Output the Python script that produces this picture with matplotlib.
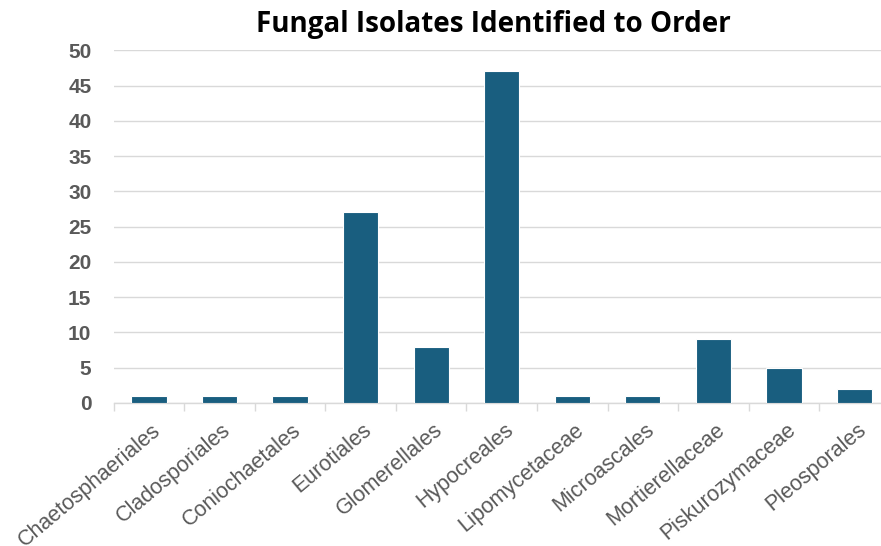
import matplotlib
matplotlib.use("Agg")
import matplotlib.pyplot as plt
import matplotlib.transforms as mtransforms
import numpy as np

# Datos
orders = ["Chaetosphaeriales", "Cladosporiales", "Coniochaetales", "Eurotiales",
          "Glomerellales", "Hypocreales", "Lipomycetaceae", "Microascales",
          "Mortierellaceae", "Piskurozymaceae", "Pleosporales"]
counts = [1, 1, 1, 27, 8, 47, 1, 1, 9, 5, 2]
y_ticks = [0, 5, 10, 15, 20, 25, 30, 35, 40, 45, 50]

bar_color = "#195e7f"
grid_color = "#d9d9d9"
text_gray = "#595959"

fig = plt.figure(figsize=(8.81, 5.46), dpi=100)
# el área del gráfico se sale un poco por la derecha, como en la imagen original
ax = fig.add_axes([0.129, 0.262, 0.881, 0.646])

x = np.arange(len(orders))
ax.bar(x, counts, width=0.5, color=bar_color, edgecolor="white", linewidth=0.8, zorder=3)

ax.set_xlim(-0.5, len(orders) - 0.5)
ax.set_ylim(0, 50)
ax.set_yticks(y_ticks)
ax.set_yticklabels([str(v) for v in y_ticks], fontsize=15, fontweight="bold",
                   color=text_gray, family="Liberation Sans")
ax.yaxis.grid(True, color=grid_color, linewidth=1, zorder=0)
ax.tick_params(axis="y", length=0, pad=16)

# Etiquetas del eje x giradas
ax.set_xticks(x)
ax.set_xticklabels(orders, rotation=40, ha="right", va="top", rotation_mode="anchor",
                   fontsize=15.5, color=text_gray, family="Liberation Sans")
ax.tick_params(axis="x", length=0, pad=12)
shift = mtransforms.ScaledTranslation(2 / 100, 0, fig.dpi_scale_trans)
for lbl in ax.get_xticklabels():
    lbl.set_transform(lbl.get_transform() + shift)

# Marcas entre categorías
ax.set_xticks(np.arange(-0.5, len(orders), 1), minor=True)
ax.tick_params(axis="x", which="minor", length=6, color=grid_color, width=1)

for side in ["top", "right", "left"]:
    ax.spines[side].set_visible(False)
ax.spines["bottom"].set_color(grid_color)
ax.spines["bottom"].set_linewidth(1)

fig.text(0.56, 0.955, "Fungal Isolates Identified to Order", ha="center", va="center",
         fontsize=20, fontweight="bold", family="Open Sans", color="black")

fig.savefig("out.png", dpi=100)
